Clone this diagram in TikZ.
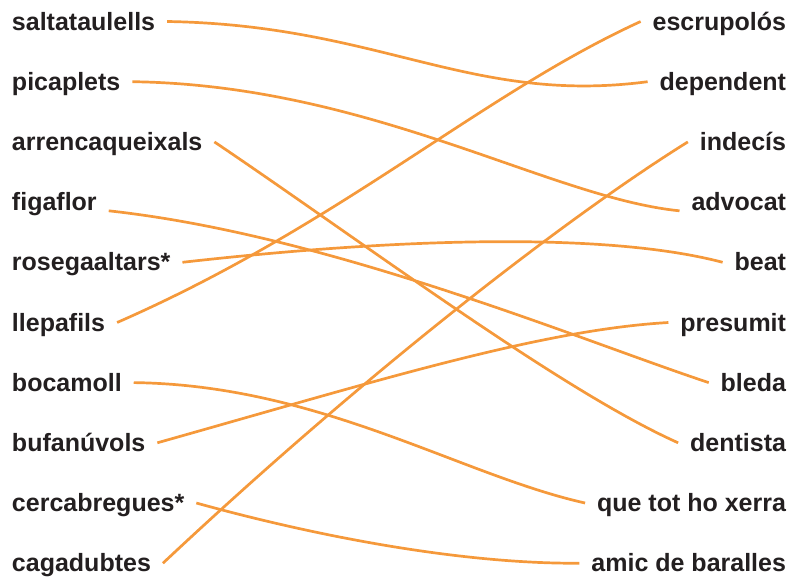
\documentclass[tikz,border=0pt]{standalone}
\usepackage{fontspec}
\setmainfont{Liberation Sans}
\usepackage{tikz}
\usetikzlibrary{positioning}

\definecolor{ink}{HTML}{231F20}
\definecolor{orangeline}{HTML}{F5993B}

\tikzset{
  word/.style={inner sep=0pt, outer xsep=12pt, text height=17pt, text depth=0pt,
    text=ink, font=\fontsize{25}{30}\selectfont\bfseries},
  lword/.style={word, anchor=base west},
  rword/.style={word, anchor=base east},
  link/.style={orangeline, line width=2.7pt}
}

\begin{document}
\begin{tikzpicture}[x=1pt,y=-1pt]
\useasboundingbox (0,0) rectangle (792,576);
%left column (outer sep of 12pt puts the text at x=12)
\node[lword] (saltataulells) at (0,30) {saltataulells};
\node[lword] (picaplets) at (0,90.2) {picaplets};
\node[lword] (arrencaqueixals) at (0,150.4) {arrencaqueixals};
\node[lword] (figaflor) at (0,210.6) {figaflor};
\node[lword] (rosegaaltars) at (0,270.8) {rosegaaltars*};
\node[lword] (llepafils) at (0,331) {llepafils};
\node[lword] (bocamoll) at (0,391.1) {bocamoll};
\node[lword] (bufanuvols) at (0,451.3) {bufanúvols};
\node[lword] (cercabregues) at (0,511.5) {cercabregues*};
\node[lword] (cagadubtes) at (0,571.7) {cagadubtes};
%right column
\node[rword] (escrupolos) at (798,30) {escrupolós};
\node[rword] (dependent) at (798,90.2) {dependent};
\node[rword] (indecis) at (798,150.4) {indecís};
\node[rword] (advocat) at (798,210.6) {advocat};
\node[rword] (beat) at (798,270.8) {beat};
\node[rword] (presumit) at (798,331) {presumit};
\node[rword] (bleda) at (798,391.1) {bleda};
\node[rword] (dentista) at (798,451.3) {dentista};
\node[rword] (quetot) at (798,511.5) {que tot ho xerra};
\node[rword] (amic) at (798,571.7) {amic de baralles};
%links
\draw[link] (saltataulells.east) .. controls (380,25) and (470,105) .. (dependent.west);
\draw[link] (picaplets.east) .. controls (370,85) and (550,198) .. (advocat.south west);
\draw[link] (arrencaqueixals.east) .. controls (360,240) and (560,390) .. (dentista.west);
\draw[link] (figaflor.south east) .. controls (330,235) and (580,340) .. (bleda.west);
\draw[link] (rosegaaltars.east) .. controls (380,240) and (600,230) .. (beat.west);
\draw[link] (llepafils.east) .. controls (340,225) and (480,95) .. (escrupolos.west);
\draw[link] (bocamoll.east) .. controls (320,385) and (460,475) .. (quetot.west);
\draw[link] (bufanuvols.east) .. controls (380,380) and (540,330) .. (presumit.west);
\draw[link] (cercabregues.east) .. controls (330,540) and (470,564) .. (amic.west);
\draw[link] (cagadubtes.east) .. controls (372,367) and (572,214) .. (indecis.west);
\end{tikzpicture}
\end{document}
